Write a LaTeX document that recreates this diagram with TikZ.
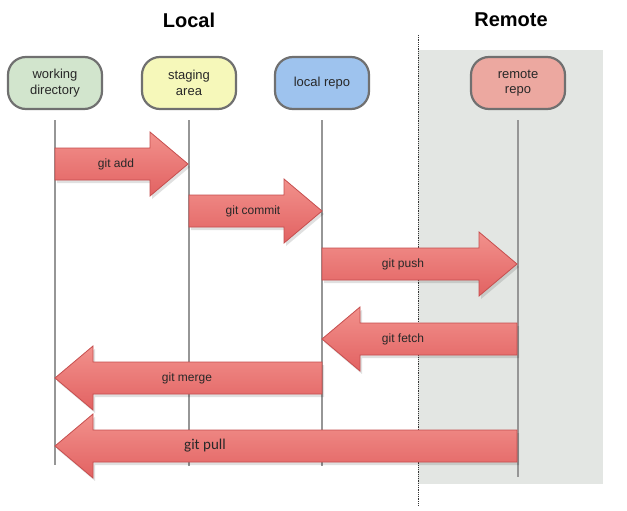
\documentclass[tikz,border=0pt]{standalone}
\usepackage{fontspec}
\setmainfont{Liberation Sans}
\newfontfamily\calfont{Carlito}
\definecolor{boxborder}{RGB}{112,112,112}
\definecolor{wdfill}{RGB}{210,229,205}
\definecolor{safill}{RGB}{246,248,186}
\definecolor{lrfill}{RGB}{158,195,238}
\definecolor{rrfill}{RGB}{236,168,160}
\definecolor{remotebg}{RGB}{227,230,227}
\definecolor{lifegray}{RGB}{150,150,150}
\definecolor{arrowtop}{RGB}{242,145,140}
\definecolor{arrowbot}{RGB}{226,98,98}
\definecolor{arrowborder}{RGB}{198,78,78}
\definecolor{txt}{RGB}{40,40,40}
\newcommand\fatarrow[5]{% #1 tail x, #2 tip x, #3 y, #4 label x, #5 label
  \pgfmathsetmacro\hb{(#2>#1) ? (#2-38) : (#2+38)}%
  \fill[black,opacity=0.12] (#1+2,#3-16+3) -- (\hb+2,#3-16+3) -- (\hb+2,#3-32+3) -- (#2+2,#3+3) -- (\hb+2,#3+32+3) -- (\hb+2,#3+16+3) -- (#1+2,#3+16+3) -- cycle;
  \path[fatarrowstyle] (#1,#3-16) -- (\hb,#3-16) -- (\hb,#3-32) -- (#2,#3) -- (\hb,#3+32) -- (\hb,#3+16) -- (#1,#3+16) -- cycle;
  \node[arrowlabel] at (#4,#3) {#5};%
}
\begin{document}
\begin{tikzpicture}[x=1pt,y=-1pt,
  box/.style={draw=boxborder, line width=2.2pt, rounded corners=18pt,
    minimum width=94pt, minimum height=52pt, align=center, inner sep=0pt,
    font=\fontsize{13}{15.5}\selectfont, text=txt},
  lifeline/.style={draw=lifegray, line width=2pt},
  arrowlabel/.style={font=\fontsize{12}{14}\selectfont, text=txt},
  fatarrowstyle/.style={draw=arrowborder, line width=0.8pt, top color=arrowtop, bottom color=arrowbot},
  titletext/.style={font=\bfseries\fontsize{20}{24}\selectfont, text=black},
]
\useasboundingbox[fill=white] (0,0) rectangle (627,511);
% remote background
\fill[remotebg] (418,50) rectangle (603,484);
\draw[densely dotted, line width=0.8pt, black!80] (418,35) -- (418,505);
% titles
\node[titletext] (tlocal) at (189,20) {Local};
\node[titletext] (tremote) at (511,20) {Remote};
% boxes
\node[box, fill=wdfill] (wd) at (55,83) {working\\directory};
\node[box, fill=safill] (sa) at (189,83) {staging\\area};
\node[box, fill=lrfill] (lr) at (322,83) {local repo};
\node[box, fill=rrfill] (rr) at (518,83) {remote\\repo};
% lifelines
\coordinate (wdtop) at (55,120); \coordinate (wdbot) at (55,465);
\coordinate (satop) at (189,120); \coordinate (sabot) at (189,466);
\coordinate (lrtop) at (322,120); \coordinate (lrbot) at (322,466);
\coordinate (rrtop) at (518,120); \coordinate (rrbot) at (518,477);
\draw[lifeline] (wdtop) -- (wdbot);
\draw[lifeline] (satop) -- (sabot);
\draw[lifeline] (lrtop) -- (lrbot);
\draw[lifeline] (rrtop) -- (rrbot);
% arrows
\fatarrow{55}{188}{164}{116}{git add}
\fatarrow{189}{322}{211}{253}{git commit}
\fatarrow{322}{517}{264}{403}{git push}
\fatarrow{517}{322}{339}{403}{git fetch}
\fatarrow{322}{55}{378}{187}{git merge}
\fatarrow{517}{55}{446}{205}{{\calfont\fontsize{15}{18}\selectfont git pull}}
\end{tikzpicture}
\end{document}
